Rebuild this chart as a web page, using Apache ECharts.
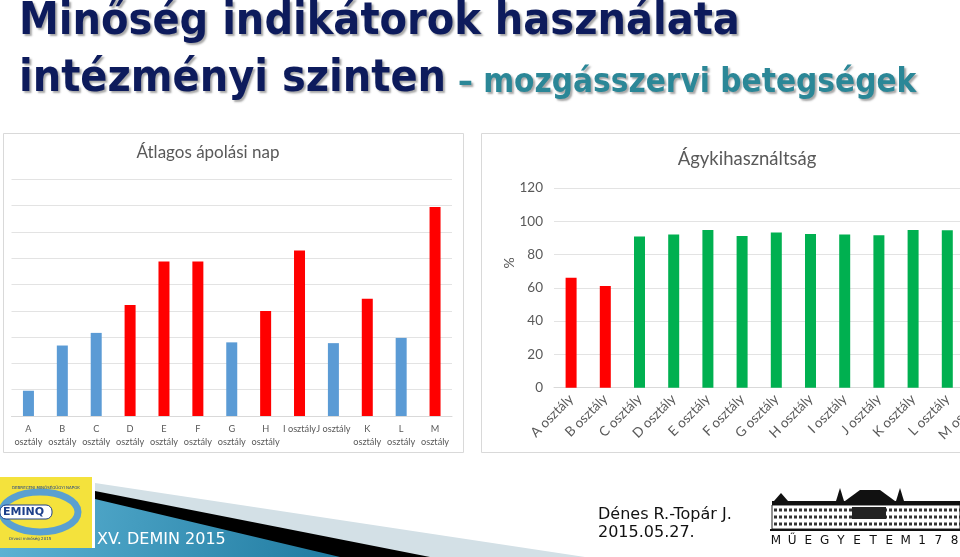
<!DOCTYPE html>
<html><head><meta charset="utf-8">
<script src="https://cdn.jsdelivr.net/npm/echarts@6/dist/echarts.min.js"></script>
<style>html,body{margin:0;padding:0;background:#fff}#c{width:960px;height:557px}</style>
</head><body><div id="c"></div>
<script>
// ---- data ----
const categories = ['A osztály','B osztály','C osztály','D osztály','E osztály','F osztály','G osztály','H osztály','I osztály','J osztály','K osztály','L osztály','M osztály'];
const avgCareDays = [0.96, 2.68, 3.16, 4.22, 5.87, 5.87, 2.80, 3.99, 6.29, 2.77, 4.46, 2.97, 7.95];
const avgCareFlag = [false,false,false,true,true,true,false,true,true,false,true,false,true];
const bedUsage = [66.1, 61.1, 90.8, 92.0, 94.8, 91.2, 93.2, 92.4, 92.0, 91.6, 94.8, 94.6, 94.2];
const bedUsageFlag = [true,true,false,false,false,false,false,false,false,false,false,false,false];
const bedTicks = [0, 20, 40, 60, 80, 100, 120];

const chart = echarts.init(document.getElementById('c'), null, {renderer:'canvas'});
const gray = '#595959';
const chartFont = 'Lato';

const titleShadow = {textShadowColor:'rgba(60,60,60,0.45)', textShadowOffsetX:2, textShadowOffsetY:2, textShadowBlur:2};

const logoLetters = ['M','Ű','E','G','Y','E','T','E','M','1','7','8','2'];
const graphics = [
  // panels
  {type:'rect', z:-10, shape:{x:3.5, y:133.5, width:460, height:319}, style:{fill:'#fff', stroke:'#d9d9d9', lineWidth:1}},
  {type:'rect', z:-10, shape:{x:481.5, y:133.5, width:520, height:319}, style:{fill:'#fff', stroke:'#d9d9d9', lineWidth:1}},
  {type:'text', x:208, y:153, style:{text:'Átlagos ápolási nap', font:'17px ' + chartFont, fill:gray, align:'center', verticalAlign:'middle'}},
  {type:'text', x:747, y:159, style:{text:'Ágykihasználtság', font:'18.5px ' + chartFont, fill:gray, align:'center', verticalAlign:'middle'}},
  {type:'text', x:509, y:263, rotation:Math.PI/2, style:{text:'%', font:'14px ' + chartFont, fill:gray, align:'center', verticalAlign:'middle'}},
  // slide title
  {type:'text', x:19, y:22.5, style:Object.assign({text:'Minőség indikátorok használata', font:'bold 44.5px "DejaVu Sans Condensed"', fill:'#0d1b5c', verticalAlign:'middle'}, titleShadow)},
  {type:'text', x:19, y:79.5, style:Object.assign({text:'intézményi szinten', font:'bold 44.5px "DejaVu Sans Condensed"', fill:'#0d1b5c', verticalAlign:'middle'}, titleShadow)},
  {type:'text', x:458, y:83.5, style:Object.assign({text:'– mozgásszervi betegségek', font:'bold 33px "DejaVu Sans Condensed"', fill:'#2b8797', verticalAlign:'middle'}, titleShadow)},
  // footer bands
  {type:'polygon', shape:{points:[[95,483],[585,557],[95,557]]}, style:{fill:'#d3e0e6'}},
  {type:'polygon', shape:{points:[[95,491],[430,557],[95,557]]}, style:{fill:'#000'}},
  {type:'polygon', shape:{points:[[95,499],[340,557],[0,557],[0,548],[95,548]]}, style:{fill:new echarts.graphic.LinearGradient(0,0,1,1,[{offset:0,color:'#5db3d4'},{offset:1,color:'#1f7aa0'}])}},
  {type:'text', x:97, y:540, style:{text:'XV. DEMIN 2015', font:'16px "DejaVu Sans"', fill:'#fff', verticalAlign:'middle'}},
  // DEMIN logo
  {type:'rect', shape:{x:0, y:477, width:92, height:71}, style:{fill:'#f4e23c'}},
  {type:'ellipse', shape:{cx:40, cy:512, rx:38, ry:20}, style:{fill:'none', stroke:'#5aa0d0', lineWidth:7}},
  {type:'rect', shape:{x:0, y:505, width:52, height:14, r:6}, style:{fill:'#fff', stroke:'#1d3f8a', lineWidth:1}},
  {type:'text', x:3, y:512, style:{text:'EMINQ', font:'bold 11px "DejaVu Sans"', fill:'#1d3f8a', verticalAlign:'middle'}},
  {type:'text', x:46, y:486, style:{text:'DEBRECENI MINŐSÉGÜGYI NAPOK', font:'4px "DejaVu Sans"', fill:'#1d3f8a', align:'center'}},
  {type:'text', x:30, y:537, style:{text:'Orvosi minőség 2015', font:'4px "DejaVu Sans"', fill:'#1d3f8a', align:'center'}},
  // authors
  {type:'text', x:598, y:515, style:{text:'Dénes R.-Topár J.', font:'16px "DejaVu Sans"', fill:'#111', verticalAlign:'middle'}},
  {type:'text', x:598, y:533, style:{text:'2015.05.27.', font:'16px "DejaVu Sans"', fill:'#111', verticalAlign:'middle'}},
  // BME logo (building)
  {type:'rect', shape:{x:772, y:505, width:188, height:24}, style:{fill:'#fff', stroke:'#222', lineWidth:1}},
  {type:'rect', shape:{x:772, y:501, width:188, height:4}, style:{fill:'#111'}},
  {type:'polygon', shape:{points:[[845,501],[860,490],[880,490],[895,501]]}, style:{fill:'#111'}},
  {type:'polygon', shape:{points:[[774,501],[781,493],[788,501]]}, style:{fill:'#111'}},
  {type:'polygon', shape:{points:[[836,501],[840,488],[844,501]]}, style:{fill:'#111'}},
  {type:'polygon', shape:{points:[[896,501],[900,488],[904,501]]}, style:{fill:'#111'}},
  {type:'line', shape:{x1:774, y1:510, x2:960, y2:510}, style:{stroke:'#333', lineWidth:3, lineDash:[3,2]}},
  {type:'line', shape:{x1:774, y1:517, x2:960, y2:517}, style:{stroke:'#333', lineWidth:3, lineDash:[3,2]}},
  {type:'line', shape:{x1:774, y1:524, x2:960, y2:524}, style:{stroke:'#333', lineWidth:3, lineDash:[3,2]}},
  {type:'rect', shape:{x:852, y:507, width:34, height:12}, style:{fill:'#222'}},
  {type:'line', shape:{x1:770, y1:530, x2:960, y2:530}, style:{stroke:'#111', lineWidth:2}}
].concat(logoLetters.map((ch,i)=>({type:'text', x: i < 9 ? 776 + i*16.2 : 922 + (i-9)*16.3, y:541,
  style:{text:ch, font:'12px "DejaVu Sans"', fill:'#111', align:'center', verticalAlign:'middle'}})));

const option = {
  animation:false,
  backgroundColor:'#fff',
  textStyle:{fontFamily:chartFont},
  grid:[
    {left:11.5, top:179.3, width:440.5, height:236.7, outerBoundsMode:'none', containLabel:false},
    {left:554, top:188, width:444.6, height:199.7, outerBoundsMode:'none', containLabel:false}
  ],
  xAxis:[
    {gridIndex:0, type:'category', data:categories,
     axisLine:{lineStyle:{color:'#d9d9d9'}}, axisTick:{show:false},
     axisLabel:{color:gray, fontSize:9.2, lineHeight:13, margin:7, interval:0,
       formatter:v => (v.startsWith('I ')||v.startsWith('J ')) ? v : v.replace(' ', '\n')}},
    {gridIndex:1, type:'category', data:categories,
     axisLine:{lineStyle:{color:'#d9d9d9'}}, axisTick:{show:false},
     axisLabel:{color:gray, fontSize:13.5, rotate:45, margin:9, interval:0}}
  ],
  yAxis:[
    {gridIndex:0, type:'value', min:0, max:9, interval:1, axisLabel:{show:false},
     axisLine:{show:false}, axisTick:{show:false}, splitLine:{lineStyle:{color:'#e3e3e3'}}},
    {gridIndex:1, type:'value', min:bedTicks[0], max:bedTicks[bedTicks.length-1], interval:bedTicks[1]-bedTicks[0],
     axisLabel:{color:gray, fontSize:13.5, margin:11},
     axisLine:{show:false}, axisTick:{show:false}, splitLine:{lineStyle:{color:'#e3e3e3'}}}
  ],
  series:[
    {type:'bar', xAxisIndex:0, yAxisIndex:0, barWidth:11,
     data:avgCareDays.map((v,i)=>({value:v, itemStyle:{color: avgCareFlag[i] ? '#ff0000' : '#5b9bd5'}}))},
    {type:'bar', xAxisIndex:1, yAxisIndex:1, barWidth:11,
     data:bedUsage.map((v,i)=>({value:v, itemStyle:{color: bedUsageFlag[i] ? '#ff0000' : '#00b050'}}))}
  ],
  graphic:graphics
};
chart.setOption(option);
</script>
</body></html>
